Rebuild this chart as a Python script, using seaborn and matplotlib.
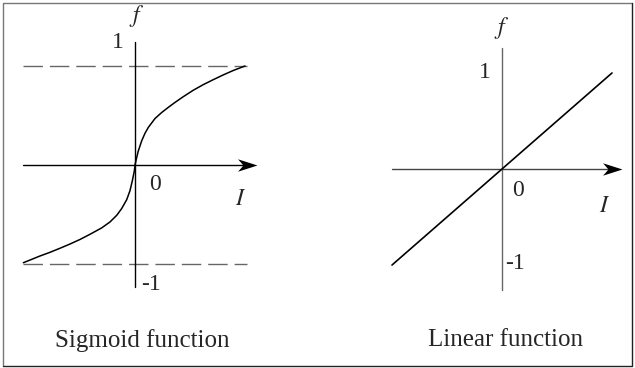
"""
Sigmoid vs linear activation function sketch
"""

import numpy as np
import matplotlib.pyplot as plt
import seaborn as sns
from matplotlib.path import Path

# Curve values (I on x, f on y)
sig_x = [-0.997, -0.9375, -0.848, -0.759, -0.67, -0.58, -0.491, -0.402,
         -0.297, -0.223, -0.163, -0.119, -0.074, -0.045, -0.024, -0.006, 0.0,
         0.015, 0.029, 0.06, 0.089, 0.119, 0.179, 0.238, 0.297, 0.357,
         0.431, 0.52, 0.61, 0.699, 0.788, 0.878, 0.982]
sig_y = [-0.987, -0.96, -0.919, -0.882, -0.841, -0.798, -0.752, -0.70,
         -0.635, -0.575, -0.508, -0.44, -0.35, -0.26, -0.16, -0.06, 0.0,
         0.075, 0.14, 0.245, 0.32, 0.38, 0.47, 0.53, 0.582, 0.632,
         0.69, 0.755, 0.812, 0.862, 0.91, 0.955, 1.0]

lin_x = [-1.0, 0.0, 1.0]
lin_y = [-0.99, 0.0, 0.99]

asymptotes = [1.0, -1.0]
tick_labels = ['1', '0', '-1']
titles = ['Sigmoid function', 'Linear function']

sns.set_style("white")
plt.rcParams['font.family'] = ['Liberation Serif', 'DejaVu Serif']
plt.rcParams['mathtext.fontset'] = 'stix'

W, H = 635, 368
fig = plt.figure(figsize=(W / 100, H / 100), dpi=100)

# Left panel: origin at px (135,165), 112 px per unit in x, 99 in y
ax1 = fig.add_axes([0, 0, 318 / W, 1])
ax1.set_xlim(-135 / 112, (318 - 135) / 112)
ax1.set_ylim(-(H - 165) / 99, 165 / 99)
ax1.axis('off')

# Right panel: origin at px (502,169), 110 px per unit in x, 97 in y
ax2 = fig.add_axes([318 / W, 0, 317 / W, 1])
ax2.set_xlim(-184 / 110, (317 - 184) / 110)
ax2.set_ylim(-(H - 169) / 97, 169 / 97)
ax2.axis('off')

# stealth-style arrowhead, tip at the marker origin
stealth = Path([(0, 0), (-1, 0.32), (-0.72, 0), (-1, -0.32), (0, 0)],
               [Path.MOVETO, Path.LINETO, Path.LINETO, Path.LINETO,
                Path.CLOSEPOLY])

fs = 17
tip = 1.09

# ---- Sigmoid panel
for a in asymptotes:
    ax1.plot([-1.0, 1.0], [a, a], color='#666666', lw=1.0, dashes=(14, 5))
ax1.plot([0, 0], [-1.23, 1.24], color='black', lw=1.0)
ax1.plot([-1.0, tip - 0.1], [0, 0], color='black', lw=1.0)
ax1.plot([tip], [0], marker=stealth, ms=28, color='black', mew=0)
sns.lineplot(x=sig_x, y=sig_y, ax=ax1, sort=False, color='black', lw=1.1)

ax1.text(-0.152, 1.24, tick_labels[0], fontsize=fs, ha='center', va='center')
ax1.text(0.018, 1.50, r'$f$', fontsize=fs, ha='center', va='center')
ax1.text(0.179, -0.20, tick_labels[1], fontsize=fs, ha='center', va='center')
ax1.text(0.94, -0.35, r'$I$', fontsize=fs, ha='center', va='center')
ax1.text(0.14, -1.21, tick_labels[2], fontsize=fs, ha='center', va='center')
ax1.text(0.0625, -1.77, titles[0], fontsize=18, ha='center', va='center')

# ---- Linear panel
ax2.plot([0, 0], [-1.247, 1.247], color='#666666', lw=1.0)
ax2.plot([-1.0, tip - 0.1], [0, 0], color='#444444', lw=1.0)
ax2.plot([tip], [0], marker=stealth, ms=28, color='black', mew=0)
sns.lineplot(x=lin_x, y=lin_y, ax=ax2, sort=False, color='black', lw=1.2)

ax2.text(0.0, 1.45, r'$f$', fontsize=fs, ha='center', va='center')
ax2.text(-0.155, 1.0, tick_labels[0], fontsize=fs, ha='center', va='center')
ax2.text(0.145, -0.22, tick_labels[1], fontsize=fs, ha='center', va='center')
ax2.text(0.936, -0.39, r'$I$', fontsize=fs, ha='center', va='center')
ax2.text(0.118, -0.97, tick_labels[2], fontsize=fs, ha='center', va='center')
ax2.text(0.036, -1.76, titles[1], fontsize=18, ha='center', va='center')

# outer frame: lighter on top/left, dark on bottom/right
x0, x1, y0, y1 = 3 / W, 632 / W, 2 / H, 365 / H
fig.add_artist(plt.Line2D([x0, x0, x1], [y0, y1, y1], transform=fig.transFigure,
                          color='#777777', lw=1.0))
fig.add_artist(plt.Line2D([x0, x1, x1], [y0, y0, y1], transform=fig.transFigure,
                          color='#222222', lw=1.0))

plt.savefig('out.png', dpi=100)
